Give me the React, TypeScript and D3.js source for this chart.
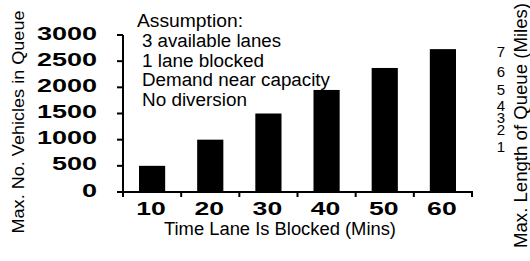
import React from "react";
import * as d3 from "d3";

// time the lane is blocked (mins) and max vehicles in queue
const minutes = ["10", "20", "30", "40", "50", "60"];
const vehicles = [500, 1000, 1500, 1950, 2370, 2730];
const vehicleTicks = [0, 500, 1000, 1500, 2000, 2500, 3000];

// right-hand labels (miles), placed at the vehicle count they line up with
const mileLabels = ["1", "2", "3", "4", "5", "6", "7"];
const mileAtVehicles = [860, 1185, 1420, 1640, 1960, 2293, 2675];

const notes = ["3 available lanes", "1 lane blocked", "Demand near capacity", "No diversion"];
const noteWidths = [139, 122, 188, 105];

const W = 530;
const H = 261;
const FONT = "'Liberation Sans', Arial, Helvetica, sans-serif";

export default function App() {
  /* ---- scales ---- */
  const x = d3.scaleBand<string>().domain(minutes).range([123, 472]).paddingInner(0.55).paddingOuter(0.275);
  const y = d3.scaleLinear().domain([0, 3000]).range([192, 35]);
  const step = x.step();

  return (
    <svg
      width={W}
      height={H}
      viewBox={`0 0 ${W} ${H}`}
      style={{ position: "absolute", left: 0, top: 0, background: "#fff", fontFamily: FONT }}
    >
      {/* ---- bars ---- */}
      {minutes.map((m, i) => (
        <rect key={m} x={x(m)} y={y(vehicles[i])} width={x.bandwidth()} height={y(0) - y(vehicles[i])} fill="#000" />
      ))}

      {/* ---- y axis ---- */}
      <line x1={123} x2={123} y1={y(3000)} y2={y(0)} stroke="#000" strokeWidth={2} />
      {vehicleTicks.map((t) => (
        <g key={t}>
          <line x1={117} x2={123} y1={y(t)} y2={y(t)} stroke="#000" strokeWidth={2} />
          <text
            transform={`translate(97,${y(t) + 4.5}) scale(1.5,1)`}
            textAnchor="end"
            fontSize={18}
            fontWeight="bold"
            fill="#000"
          >
            {t}
          </text>
        </g>
      ))}

      {/* ---- x axis ---- */}
      <line x1={117} x2={473} y1={y(0)} y2={y(0)} stroke="#000" strokeWidth={2} />
      {d3.range(minutes.length + 1).map((k) => (
        <line key={k} x1={123 + k * step} x2={123 + k * step} y1={y(0)} y2={y(0) + 5} stroke="#000" strokeWidth={2} />
      ))}
      {minutes.map((m) => (
        <text
          key={m}
          transform={`translate(${(x(m) as number) + x.bandwidth() / 2 - 1},215) scale(1.4,1)`}
          textAnchor="middle"
          fontSize={19}
          fontWeight="bold"
          fill="#000"
        >
          {m}
        </text>
      ))}
      <text x={280} y={235} textAnchor="middle" fontSize={18} textLength={232} lengthAdjust="spacingAndGlyphs" fill="#000">
        Time Lane Is Blocked (Mins)
      </text>

      {/* ---- axis titles ---- */}
      <text
        transform="translate(24,122) rotate(-90)"
        textAnchor="middle"
        fontSize={17}
        textLength={223}
        lengthAdjust="spacingAndGlyphs"
        fill="#000"
      >
        Max. No. Vehicles in Queue
      </text>
      <text
        transform="translate(527,125.5) rotate(-90)"
        textAnchor="middle"
        fontSize={18}
        textLength={245}
        lengthAdjust="spacingAndGlyphs"
        fill="#000"
      >
        Max. Length of Queue (Miles)
      </text>

      {/* ---- right miles labels ---- */}
      {mileLabels.map((l, i) => (
        <text key={l} x={501} y={y(mileAtVehicles[i]) + 5.3} textAnchor="middle" fontSize={15} fill="#000">
          {l}
        </text>
      ))}

      {/* ---- assumption note ---- */}
      <text x={137} y={27} fontSize={18} textLength={106} lengthAdjust="spacingAndGlyphs" fill="#000">
        Assumption:
      </text>
      {notes.map((n, i) => (
        <text
          key={n}
          x={142}
          y={47 + i * 19.7}
          fontSize={18}
          textLength={noteWidths[i]}
          lengthAdjust="spacingAndGlyphs"
          fill="#000"
        >
          {n}
        </text>
      ))}
    </svg>
  );
}
